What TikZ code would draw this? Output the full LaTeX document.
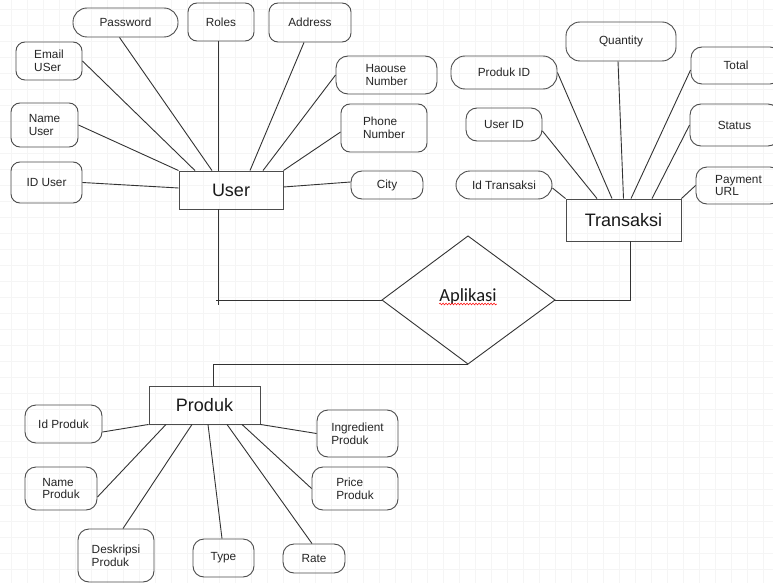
\documentclass[tikz,border=0pt]{standalone}
\usepackage{fontspec}
\setmainfont{Liberation Sans}
\newfontfamily\calfont{Carlito}
\usetikzlibrary{decorations.pathmorphing}
\begin{document}
\begin{tikzpicture}[x=1pt,y=-1pt,
  line/.style={draw=black!80,line width=0.9pt},
  attr/.style={draw=black!70,line width=0.9pt,rounded corners=9,inner sep=0pt,
    align=left,font=\fontsize{11.8}{12.6}\selectfont,text=black!85},
  pill/.style={attr,rounded corners=14},
  entity/.style={draw=black!70,line width=0.9pt,inner sep=0pt,
    font=\fontsize{18}{20}\selectfont,text=black!90}]
\useasboundingbox (0,0) rectangle (773,583);
\clip (0,0) rectangle (773,583);
\fill[white] (0,0) rectangle (773,583);
% background grid
\foreach \gx in {0,...,48} {\draw[black!4,line width=0.8pt] (11.7+16*\gx,0) -- (11.7+16*\gx,583);}
\foreach \gy in {0,...,36} {\draw[black!4,line width=0.8pt] (0,9.3+16*\gy) -- (773,9.3+16*\gy);}

% entities
\node[entity,minimum width=104,minimum height=38] (user) at (231,190) {User};
\node[entity,minimum width=115,minimum height=42] (trans) at (623.5,220) {Transaksi};
\node[entity,minimum width=111,minimum height=38] (prod) at (204.5,405) {Produk};

% relationship diamond
\coordinate (dT) at (468,236);
\coordinate (dL) at (382,300);
\coordinate (dR) at (555,300);
\coordinate (dB) at (468,364);
\draw[line] (dT) -- (dR) -- (dB) -- (dL) -- cycle;
\node[anchor=base,inner sep=0pt,font=\calfont\fontsize{18.5}{20}\selectfont,text=black!90] (apl) at (468,301) {Aplikasi};
\draw[red,line width=0.5pt,decorate,decoration={snake,amplitude=0.9pt,segment length=3pt}]
  ([yshift=-3]apl.base west) -- ([yshift=-3]apl.base east);

% relationship lines
\coordinate (c1) at (218,300);
\draw[line] ([xshift=-13]user.south) -- ([yshift=-5]c1);
\draw[line] (dL) -- ([xshift=-2]c1);
\draw[line] (dR) -| ([xshift=6.5]trans.south);
\draw[line] (dB) -| ([xshift=8.5]prod.north);

% User attributes
\node[pill,minimum width=105,minimum height=29] (pw) at (125.5,22.5) {Password};
\node[attr,minimum width=66,minimum height=38] (roles) at (221,22) {Roles};
\node[attr,minimum width=82,minimum height=39] (addr) at (310,22.5) {Address};
\node[attr,minimum width=66,minimum height=38] (email) at (49,61) {Email\\USer};
\node[attr,minimum width=67,minimum height=44] (name) at (44.5,125) {Name\\User};
\node[attr,minimum width=71,minimum height=41] (iduser) at (46.5,182.5) {ID User};
\node[attr,rounded corners=12,minimum width=101,minimum height=38] (haouse) at (386.5,75) {Haouse\\Number};
\node[attr,minimum width=86,minimum height=48] (phone) at (384,128) {Phone\\Number};
\node[attr,rounded corners=11,minimum width=72,minimum height=28] (city) at (387,185) {City};

\draw[line] ([xshift=-6]pw.south) -- ([xshift=-19]user.north);
\draw[line] ([xshift=-3]roles.south) -- ([xshift=-13]user.north);
\draw[line] ([xshift=-6]addr.south) -- ([xshift=19]user.north);
\draw[line] (email.east) -- ([xshift=-36]user.north);
\draw[line] (name.east) -- (user.north west);
\draw[line] (iduser.east) -- ([yshift=2]user.west);
\draw[line] (haouse.west) -- ([xshift=32]user.north);
\draw[line] ([yshift=-4]phone.west) -- (user.north east);
\draw[line] ([yshift=3]city.west) -- ([yshift=3]user.east);

% Transaksi attributes
\node[pill,minimum width=110,minimum height=39] (qty) at (621,41.5) {Quantity};
\node[pill,minimum width=106,minimum height=33] (pid) at (504,72.5) {Produk ID};
\node[attr,rounded corners=11,minimum width=90,minimum height=37] (total) at (736,65.5) {Total};
\node[attr,rounded corners=11,minimum width=76,minimum height=33] (uid) at (504,124.5) {User ID};
\node[attr,rounded corners=11,minimum width=89,minimum height=42] (status) at (734.5,125) {Status};
\node[pill,minimum width=96,minimum height=28] (idt) at (504,185) {Id Transaksi};
\node[attr,rounded corners=11,minimum width=85,minimum height=37] (pay) at (738.5,185.5) {Payment\\URL};

\draw[line] ([yshift=-3]idt.east) -- (trans.north west);
\draw[line] ([yshift=-6.5]uid.east) -- ([xshift=-26.5]trans.north);
\draw[line] (pid.east) -- ([xshift=-11.5]trans.north);
\draw[line] ([xshift=-3]qty.south) -- (trans.north);
\draw[line] ([yshift=-4.5]total.west) -- ([xshift=7.5]trans.north);
\draw[line] (status.west) -- ([xshift=28.5]trans.north);
\draw[line] (pay.west) -- (trans.north east);

% Produk attributes
\node[attr,rounded corners=11,minimum width=77,minimum height=38] (idp) at (63.5,424) {Id Produk};
\node[attr,rounded corners=11,minimum width=72,minimum height=43] (namep) at (61,488.5) {Name\\Produk};
\node[attr,rounded corners=11,minimum width=76,minimum height=53] (desk) at (116,555.5) {Deskripsi\\Produk};
\node[attr,rounded corners=11,minimum width=61,minimum height=38] (type) at (223.5,558) {Type};
\node[attr,rounded corners=11,minimum width=62,minimum height=29] (rate) at (314,558.5) {Rate};
\node[attr,rounded corners=11,minimum width=81,minimum height=47] (ingr) at (357.5,433.5) {Ingredient\\Produk};
\node[attr,rounded corners=11,minimum width=86,minimum height=43] (price) at (355,488.5) {Price\\Produk};

\draw[line] ([yshift=-8]idp.east) -- (prod.south west);
\draw[line] ([yshift=-8.5]namep.east) -- ([xshift=-38.5]prod.south);
\draw[line] ([xshift=7]desk.north) -- ([xshift=-12.5]prod.south);
\draw[line] ([xshift=-1.5]type.north) -- ([xshift=3.5]prod.south);
\draw[line] ([xshift=-2]rate.north) -- ([xshift=22.5]prod.south);
\draw[line] (price.west) -- ([xshift=37.5]prod.south);
\draw[line] (ingr.west) -- (prod.south east);
\end{tikzpicture}
\end{document}
